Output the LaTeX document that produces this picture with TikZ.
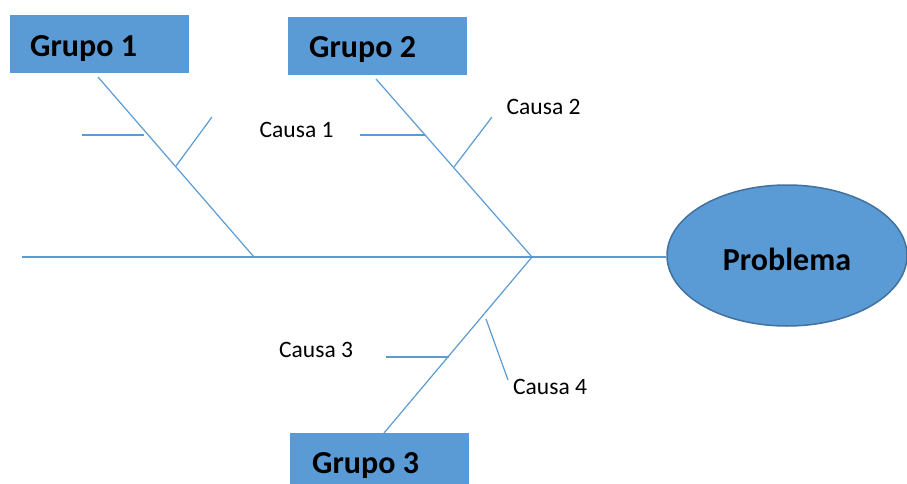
\documentclass[tikz,border=0pt]{standalone}
\usepackage{fontspec}
\setmainfont{Carlito}
\usetikzlibrary{shapes.geometric}
\definecolor{accent}{HTML}{5B9BD5}
\definecolor{accentdark}{HTML}{41719C}
\tikzset{
  bone/.style={draw=accent, line width=1.2pt},
  groupbox/.style={rectangle, fill=accent, draw=none, minimum width=179pt, minimum height=58pt, inner sep=0pt},
  grouptext/.style={anchor=base west, inner sep=0pt, font=\fontsize{32}{36}\selectfont\bfseries},
  causetext/.style={anchor=base west, inner sep=0pt, font=\fontsize{23.5}{28}\selectfont},
}
\begin{document}
\begin{tikzpicture}[x=1pt, y=-1pt]
  \useasboundingbox (0,0) rectangle (907,484);

  % group boxes and their titles
  \node[groupbox] (g1) at (99.5,44) {};
  \node[grouptext] (g1t) at (30,57) {Grupo 1};
  \node[groupbox] (g2) at (377.5,46) {};
  \node[grouptext] (g2t) at (309,58) {Grupo 2};
  \node[groupbox] (g3) at (379.5,462) {};
  \node[grouptext] (g3t) at (312,473) {Grupo 3};

  % effect (head of the fish)
  \node[ellipse, fill=accent, draw=accentdark, line width=1.5pt,
        minimum width=240pt, minimum height=141pt, inner sep=0pt,
        text height=29pt, text depth=0pt,
        font=\fontsize{32}{36}\selectfont\bfseries] (prob) at (787,255.5) {Problema};

  % cause labels
  \node[causetext] (c1) at (259.5,137) {Causa 1};
  \node[causetext] (c2) at (506.5,115) {Causa 2};
  \node[causetext] (c3) at (279,357.5) {Causa 3};
  \node[causetext] (c4) at (513,394) {Causa 4};

  % bone end points
  \coordinate (tail) at (22,257);
  \coordinate (j) at (532,257);
  \coordinate (b1s) at (98,77);
  \coordinate (b1e) at (254,257);
  \coordinate (b2s) at (376,79);
  \coordinate (b3e) at (384,433);
  \coordinate (r1a) at (82,135);   \coordinate (r1b) at (144,135);
  \coordinate (r2a) at (176,166);  \coordinate (r2b) at (212,117);
  \coordinate (r3a) at (360,135);  \coordinate (r3b) at (425,135);
  \coordinate (r4a) at (454,167);  \coordinate (r4b) at (492,117);
  \coordinate (r5a) at (386,357);  \coordinate (r5b) at (449,357);
  \coordinate (r6a) at (486,319);  \coordinate (r6b) at (508,380);

  % spine and main bones
  \draw[bone] (tail) -- (tail -| prob.west);
  \draw[bone] (b1s) -- (b1e);
  \draw[bone] (b2s) -- (j);
  \draw[bone] (j) -- (b3e);

  % ribs
  \draw[bone] (r1a) -- (r1b);
  \draw[bone] (r2a) -- (r2b);
  \draw[bone] (r3a) -- (r3b);
  \draw[bone] (r4a) -- (r4b);
  \draw[bone] (r5a) -- (r5b);
  \draw[bone] (r6a) -- (r6b);
\end{tikzpicture}
\end{document}
